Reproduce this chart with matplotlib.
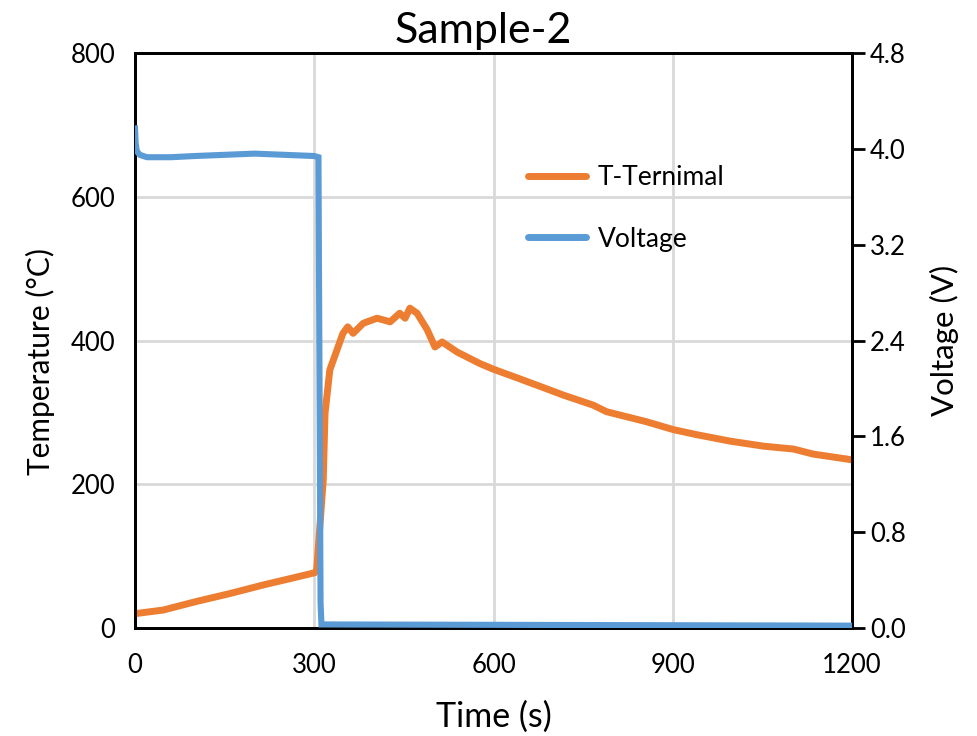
import matplotlib
matplotlib.use("Agg")
import matplotlib.pyplot as plt
from matplotlib.lines import Line2D

plt.rcParams['font.family'] = ['Lato', 'DejaVu Sans']

# ---- data ----
t_temp = [0, 47, 103, 159, 215, 271, 301, 304, 315, 318, 326, 335, 348, 356, 365,
          382, 405, 427, 443, 452, 460, 472, 489, 502, 514, 539, 577, 600, 633,
          672, 717, 767, 789, 856, 901, 940, 996, 1052, 1102, 1135, 1200]
temp = [20, 25, 37, 48, 60, 71, 77, 80, 206, 299, 359, 380, 410, 419, 410,
        424, 431, 426, 438, 431, 445, 438, 415, 391, 398, 384, 368, 360, 350,
        338, 324, 310, 301, 287, 276, 269, 260, 253, 249, 242, 234]

t_volt = [0, 1, 3, 8, 20, 60, 100, 150, 200, 250, 300, 307, 310.5, 312, 1200]
volt = [4.17, 4.05, 3.98, 3.95, 3.93, 3.93, 3.94, 3.95, 3.96, 3.95, 3.94, 3.93,
        0.21, 0.03, 0.02]

x_ticks = [0, 300, 600, 900, 1200]
t_ticks = [0, 200, 400, 600, 800]
v_ticks = [0.0, 0.8, 1.6, 2.4, 3.2, 4.0, 4.8]

orange = '#ED7D31'
blue = '#5B9BD5'

fig = plt.figure(figsize=(9.77, 7.36), dpi=100)
ax = fig.add_axes([0.1382, 0.1467, 0.7339, 0.7813])
ax2 = ax.twinx()

ax.plot(t_temp, temp, color=orange, lw=5.0, solid_capstyle='round',
        solid_joinstyle='round', zorder=3)
ax2.plot(t_volt, volt, color=blue, lw=4.4, solid_joinstyle='miter', zorder=3)

ax.set_xlim(0, 1200)
ax.set_ylim(0, 800)
ax2.set_ylim(0, 4.8)
ax.set_xticks(x_ticks)
ax.set_yticks(t_ticks)
ax2.set_yticks(v_ticks)
ax2.set_yticklabels([f"{v:.1f}" for v in v_ticks])

ax.grid(True, color='#D9D9D9', lw=2)
ax.set_axisbelow(True)

for a in (ax, ax2):
    for s in a.spines.values():
        s.set_linewidth(2)
        s.set_color('black')

ax.tick_params(axis='x', length=0, pad=18, labelsize=18.5)
ax.tick_params(axis='y', length=0, pad=14, labelsize=18.5)
ax2.tick_params(axis='y', length=9, width=2, direction='out', pad=4, labelsize=18.5)

ax.set_xlabel('Time (s)', fontsize=24.5, labelpad=16)
ax.set_ylabel('Temperature (°C)', fontsize=21.5)
ax.yaxis.set_label_coords(-0.111, 0.463)
ax2.set_ylabel('Voltage (V)', fontsize=22.5)
ax2.yaxis.set_label_coords(1.109, 0.5)
ax.set_title('Sample-2', fontsize=31, x=0.486, pad=7)

handles = [Line2D([0], [0], color=orange, lw=5.0, solid_capstyle='round'),
           Line2D([0], [0], color=blue, lw=5.0, solid_capstyle='round')]
ax2.legend(handles, ['T-Ternimal', 'Voltage'], loc='center left',
           bbox_to_anchor=(0.515, 0.73), frameon=False, fontsize=19,
           handlelength=2.2, labelspacing=1.4, handletextpad=0.45)

fig.savefig('out.png', dpi=100)
